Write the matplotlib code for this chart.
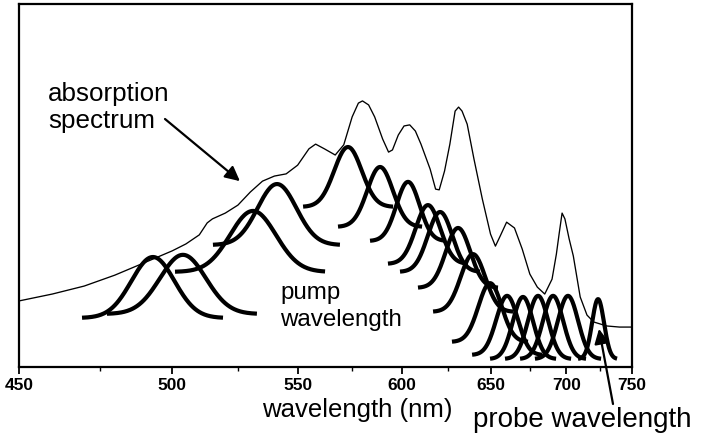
import numpy as np
import matplotlib
matplotlib.use("Agg")
import matplotlib.pyplot as plt

# Absorption spectrum (wavelength in nm, absorbance in arbitrary units)
abs_wl = [450, 460, 470, 480, 490, 500, 505, 510, 513, 515, 520, 525, 530, 535,
          540, 545, 550, 555, 558, 562, 567, 571, 575, 578, 580, 583, 586, 590,
          593, 595, 598, 601, 604, 607, 610, 615, 618, 620, 623, 626, 629, 631,
          633, 636, 640, 645, 650, 653, 656, 660, 665, 670, 675, 680, 685, 690,
          693, 695, 697, 699, 702, 705, 710, 715, 720, 730, 740, 750]
abs_val = [0.182, 0.201, 0.223, 0.253, 0.287, 0.320, 0.339, 0.364, 0.397, 0.408,
           0.424, 0.446, 0.482, 0.512, 0.526, 0.532, 0.556, 0.601, 0.614, 0.601,
           0.584, 0.612, 0.689, 0.727, 0.733, 0.722, 0.689, 0.628, 0.592, 0.598,
           0.639, 0.664, 0.667, 0.650, 0.614, 0.545, 0.490, 0.488, 0.540, 0.614,
           0.705, 0.716, 0.705, 0.669, 0.573, 0.463, 0.366, 0.333, 0.361, 0.399,
           0.383, 0.325, 0.256, 0.220, 0.201, 0.242, 0.311, 0.369, 0.424, 0.408,
           0.353, 0.306, 0.193, 0.143, 0.124, 0.113, 0.110, 0.110]

# Pump pulse spectra: centre, drawn extent, peak and baseline levels
pump_center = [493.1, 503.9, 531.1, 541.1, 573.0, 588.7, 603.1, 613.8, 620.5,
               630.7, 639.4, 649.7, 660.3, 670.5, 680.5, 690.7, 701.2, 723.3]
pump_left = [469.3, 477.4, 501.0, 515.2, 552.4, 568.3, 583.7, 592.7, 598.9,
             608.4, 616.6, 627.2, 638.9, 649.7, 659.0, 668.6, 678.4, 708.4]
pump_right = [519.1, 532.7, 562.3, 569.2, 595.3, 610.6, 623.8, 636.5, 643.6,
              654.6, 664.1, 673.8, 683.2, 692.8, 703.4, 714.3, 725.6, 738.0]
pump_peak = [0.303, 0.309, 0.430, 0.504, 0.606, 0.551, 0.510, 0.446, 0.427,
             0.383, 0.311, 0.231, 0.196, 0.193, 0.196, 0.196, 0.196, 0.187]
pump_base = [0.135, 0.146, 0.262, 0.336, 0.441, 0.386, 0.347, 0.284, 0.262,
             0.218, 0.152, 0.069, 0.033, 0.022, 0.022, 0.022, 0.022, 0.022]

major_ticks = [450, 500, 550, 600, 650, 700, 750]
minor_ticks = [475, 525, 575, 625, 675, 725]

plt.rcParams['font.family'] = ['Liberation Sans', 'DejaVu Sans']

W, H = 704, 439
fig = plt.figure(figsize=(W / 100, H / 100), dpi=100)
ax = fig.add_axes([19 / W, 1 - 368 / H, 613 / W, 363 / H])


def to_energy(w):
    w = np.asarray(w, dtype=float)
    with np.errstate(divide='ignore', invalid='ignore'):
        return -1e7 / w


def from_energy(k):
    k = np.asarray(k, dtype=float)
    with np.errstate(divide='ignore', invalid='ignore'):
        return -1e7 / k


# axis linear in photon energy, labelled in wavelength
ax.set_xscale('function', functions=(to_energy, from_energy))
ax.set_xlim(450, 750)
ax.set_ylim(0, 1)

ax.plot(abs_wl, abs_val, color='black', lw=0.95, solid_joinstyle='round')

for c, l, r, pk, bs in zip(pump_center, pump_left, pump_right, pump_peak, pump_base):
    kc, kl, kr = 1e7 / c, 1e7 / l, 1e7 / r
    fwhm = 0.36 * (kl - kr)
    k = np.linspace(kl, kr, 200)
    prof = bs + (pk - bs) * np.exp(-4 * np.log(2) * ((k - kc) / fwhm) ** 2)
    ax.plot(1e7 / k, prof, color='black', lw=3.0, solid_capstyle='butt')

ax.set_xticks(major_ticks)
ax.set_xticklabels([str(t) for t in major_ticks], fontweight='bold', fontsize=12.5)
ax.set_xticks(minor_ticks, minor=True)
ax.set_yticks([])
ax.tick_params(axis='x', which='major', direction='out', length=5, width=1.3, pad=2)
ax.tick_params(axis='x', which='minor', direction='out', length=3, width=1.0)
for s in ax.spines.values():
    s.set_linewidth(1.6)


def fig_xy(px, py):
    return px / W, 1 - py / H


tf = fig.transFigure
fig.text(*fig_xy(48, 94), 'absorption', fontsize=18.7, ha='left', va='center', transform=tf)
fig.text(*fig_xy(48, 121), 'spectrum', fontsize=18.7, ha='left', va='center', transform=tf)
fig.text(*fig_xy(280, 293), 'pump', fontsize=17.4, ha='left', va='center', transform=tf)
fig.text(*fig_xy(280, 320), 'wavelength', fontsize=17.4, ha='left', va='center', transform=tf)
fig.text(*fig_xy(357, 410), 'wavelength (nm)', fontsize=18.5, ha='center', va='center', transform=tf)
fig.text(*fig_xy(473, 420), 'probe wavelength', fontsize=20, ha='left', va='center', transform=tf)

arrow = dict(arrowstyle='-|>', color='black', lw=1.6, mutation_scale=22,
             shrinkA=0, shrinkB=0)
ax.annotate('', xy=(525.8, 0.512), xycoords='data',
            xytext=fig_xy(165, 120), textcoords='figure fraction', arrowprops=arrow)
ax.annotate('', xy=(724.0, 0.105), xycoords='data',
            xytext=fig_xy(613, 405), textcoords='figure fraction', arrowprops=arrow,
            annotation_clip=False)

fig.savefig('out.png', dpi=100)
